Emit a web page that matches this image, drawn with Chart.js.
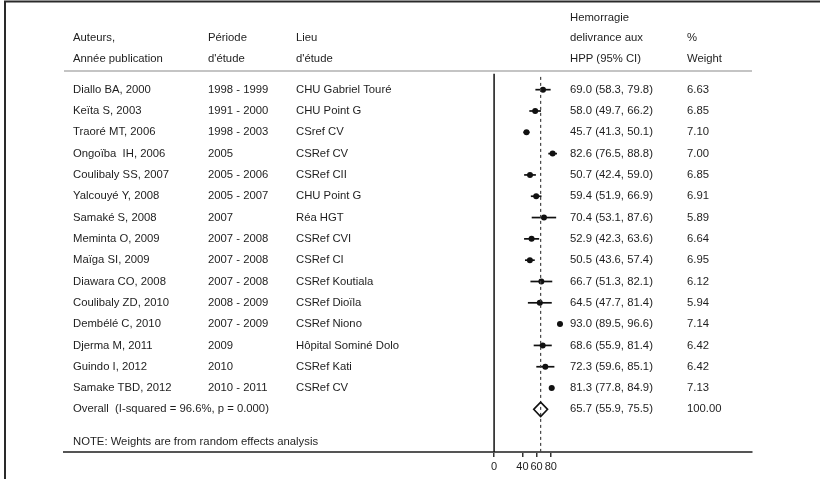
<!DOCTYPE html>
<html>
<head>
<meta charset="utf-8">
<script src="https://cdn.jsdelivr.net/npm/chart.js@4/dist/chart.umd.min.js"></script>
<style>
html,body{margin:0;padding:0;background:#fff;}
canvas{display:block;}
</style>
</head>
<body>
<canvas id="c" width="820" height="479"></canvas>
<script>
// ---- data ----
const authors = ["Diallo BA, 2000","Keïta S, 2003","Traoré MT, 2006","Ongoïba  IH, 2006","Coulibaly SS, 2007","Yalcouyé Y, 2008","Samaké S, 2008","Meminta O, 2009","Maïga SI, 2009","Diawara CO, 2008","Coulibaly ZD, 2010","Dembélé C, 2010","Djerma M, 2011","Guindo I, 2012","Samake TBD, 2012"];
const periods = ["1998 - 1999","1991 - 2000","1998 - 2003","2005","2005 - 2006","2005 - 2007","2007","2007 - 2008","2007 - 2008","2007 - 2008","2008 - 2009","2007 - 2009","2009","2010","2010 - 2011"];
const places = ["CHU Gabriel Touré","CHU Point G","CSref CV","CSRef CV","CSRef CII","CHU Point G","Réa HGT","CSRef CVI","CSRef CI","CSRef Koutiala","CSRef Dioïla","CSRef Niono","Hôpital Sominé Dolo","CSRef Kati","CSRef CV"];
const estimates = [69.0,58.0,45.7,82.6,50.7,59.4,70.4,52.9,50.5,66.7,64.5,93.0,68.6,72.3,81.3];
const lowerCI = [58.3,49.7,41.3,76.5,42.4,51.9,53.1,42.3,43.6,51.3,47.7,89.5,55.9,59.6,77.8];
const upperCI = [79.8,66.2,50.1,88.8,59.0,66.9,87.6,63.6,57.4,82.1,81.4,96.6,81.4,85.1,84.9];
const weights = [6.63,6.85,7.10,7.00,6.85,6.91,5.89,6.64,6.95,6.12,5.94,7.14,6.42,6.42,7.13];
const overall = {est:65.7, lo:55.9, hi:75.5, weight:100.00, label:"Overall  (I-squared = 96.6%, p = 0.000)"};
const xTicks = [0,40,60,80];
const headers = [
  ["Auteurs,", "Période", "Lieu", "delivrance aux", "%"],
  ["Année publication", "d'étude", "d'étude", "HPP (95% CI)", "Weight"]
];
const headerTop = "Hemorragie";
const note = "NOTE: Weights are from random effects analysis";

// ---- drawing ----
const FONT = "'Liberation Sans', Arial, sans-serif";
const TXT = '#1e1e1e';
const colX = [73, 208, 296, 570, 687];
const nRows = authors.length;

const forestPlugin = {
  id: 'forest',
  beforeDatasetsDraw(chart) {
    const {ctx, scales:{x, y}} = chart;
    ctx.save();
    ctx.strokeStyle = '#111';
    ctx.lineWidth = 1.7;
    for (let i = 0; i < nRows; i++) {
      const py = y.getPixelForValue(i);
      ctx.beginPath();
      ctx.moveTo(x.getPixelForValue(lowerCI[i]), py);
      ctx.lineTo(x.getPixelForValue(upperCI[i]), py);
      ctx.stroke();
    }
    ctx.restore();
  },
  afterDatasetsDraw(chart) {
    const {ctx, scales:{x, y}} = chart;
    ctx.save();
    // overall diamond
    const yc = y.getPixelForValue(nRows);
    const h = y.getPixelForValue(nRows + 0.34) - yc;
    ctx.strokeStyle = '#111';
    ctx.lineWidth = 1.6;
    ctx.beginPath();
    ctx.moveTo(x.getPixelForValue(overall.lo), yc);
    ctx.lineTo(x.getPixelForValue(overall.est), yc - h);
    ctx.lineTo(x.getPixelForValue(overall.hi), yc);
    ctx.lineTo(x.getPixelForValue(overall.est), yc + h);
    ctx.closePath();
    ctx.stroke();
    ctx.restore();
  },
  afterDraw(chart) {
    const {ctx, chartArea:a, scales:{y}} = chart;
    ctx.save();
    // frame
    ctx.strokeStyle = '#2a2a2a';
    ctx.lineWidth = 2;
    ctx.beginPath();
    ctx.moveTo(5, 479); ctx.lineTo(5, 1.5); ctx.lineTo(820, 1.5);
    ctx.stroke();
    // header separator
    ctx.strokeStyle = '#c4c4c4';
    ctx.lineWidth = 2;
    ctx.beginPath();
    ctx.moveTo(a.left, 71); ctx.lineTo(a.right, 71);
    ctx.stroke();
    // texts
    ctx.fillStyle = TXT;
    ctx.font = "11.3px " + FONT;
    ctx.textBaseline = 'middle';
    ctx.textAlign = 'left';
    ctx.fillText(headerTop, colX[3], 18);
    headers[0].forEach((t, k) => ctx.fillText(t, colX[k], 38));
    headers[1].forEach((t, k) => ctx.fillText(t, colX[k], 59));
    for (let i = 0; i < nRows; i++) {
      const py = y.getPixelForValue(i);
      ctx.fillText(authors[i], colX[0], py);
      ctx.fillText(periods[i], colX[1], py);
      ctx.fillText(places[i], colX[2], py);
      ctx.fillText(estimates[i].toFixed(1) + " (" + lowerCI[i].toFixed(1) + ", " + upperCI[i].toFixed(1) + ")", colX[3], py);
      ctx.fillText(weights[i].toFixed(2), colX[4], py);
    }
    const po = y.getPixelForValue(nRows);
    ctx.fillText(overall.label, colX[0], po);
    ctx.fillText(overall.est.toFixed(1) + " (" + overall.lo.toFixed(1) + ", " + overall.hi.toFixed(1) + ")", colX[3], po);
    ctx.fillText(overall.weight.toFixed(2), colX[4], po);
    ctx.fillText(note, colX[0], y.getPixelForValue(nRows + 1.52));
    ctx.restore();
  }
};

new Chart(document.getElementById('c'), {
  type: 'scatter',
  data: {
    datasets: [
      {
        label: 'null',
        data: [{x:0, y:-0.75}, {x:0, y:17}],
        showLine: true, pointRadius: 0, borderColor: '#111', borderWidth: 1.5
      },
      {
        label: 'overall',
        data: [{x:overall.est, y:-0.6}, {x:overall.est, y:17}],
        showLine: true, pointRadius: 0, borderColor: '#444', borderWidth: 1.2, borderDash: [3, 3]
      },
      {
        label: 'studies',
        data: estimates.map((v, i) => ({x: v, y: i})),
        pointRadius: 3, pointBackgroundColor: '#111', pointBorderWidth: 0, pointStyle: 'circle'
      }
    ]
  },
  options: {
    responsive: false,
    animation: false,
    events: [],
    layout: {padding: {left: 64, right: 68, top: 2, bottom: 0}},
    plugins: {legend: {display: false}, tooltip: {enabled: false}},
    scales: {
      x: {
        type: 'linear', position: 'bottom', min: -607, max: 364,
        afterBuildTicks: s => { s.ticks = xTicks.map(v => ({value: v})); },
        afterFit: s => { s.height = 27; },
        ticks: {autoSkip: false, maxRotation: 0, padding: 3, color: TXT, font: {family: FONT, size: 11}},
        grid: {drawOnChartArea: false, drawTicks: true, tickLength: 5, color: '#333', lineWidth: 1.5},
        border: {display: true, color: '#555', width: 2}
      },
      y: {
        type: 'linear', reverse: true, min: -4.02, max: 17, display: false
      }
    }
  },
  plugins: [forestPlugin]
});
</script>
</body>
</html>
